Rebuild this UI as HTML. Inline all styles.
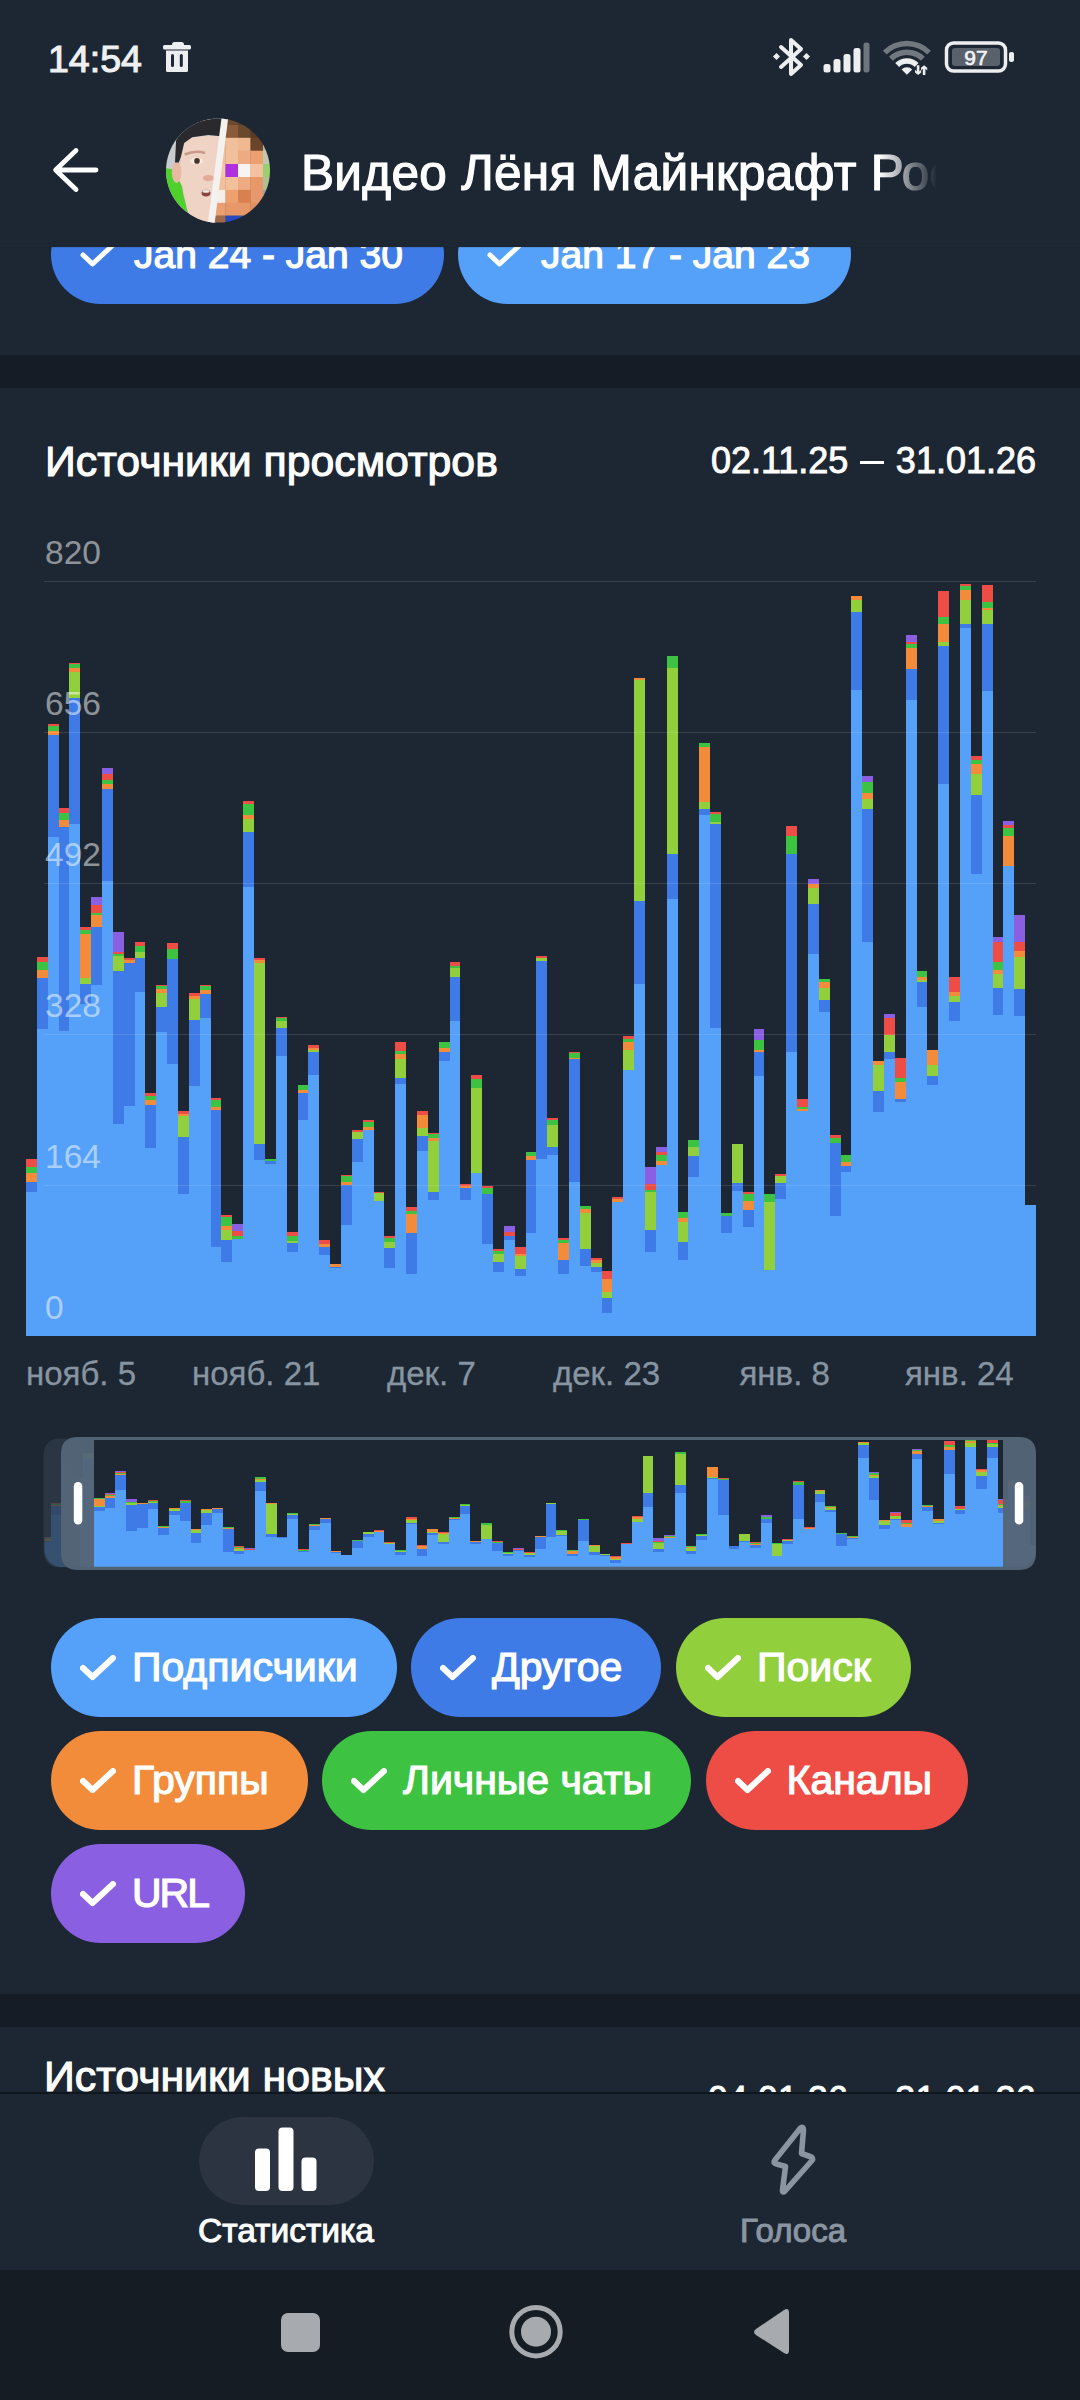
<!DOCTYPE html>
<html><head><meta charset="utf-8">
<style>
*{margin:0;padding:0;box-sizing:border-box}
html,body{width:1080px;height:2400px;overflow:hidden;background:#1d2733;font-family:"Liberation Sans", sans-serif}
.abs{position:absolute}
.chip{position:absolute;border-radius:60px;overflow:hidden}
.chip .chk{position:absolute}
.chip .ct{position:absolute;top:0;color:#fff;white-space:nowrap;-webkit-text-stroke:1.2px #fff}
.yl{position:absolute;left:45px;font-size:33.5px;line-height:30px;height:30px;color:rgba(255,255,255,0.52);white-space:nowrap}
.xl{position:absolute;top:1353.5px;font-size:33px;line-height:40px;color:#8794a1;white-space:nowrap;-webkit-text-stroke:0.3px #8794a1}
</style></head><body>
<!-- status bar -->
<div class="abs" style="left:0;top:0;width:1080px;height:247px;background:#1d2733;z-index:5">
  <div class="abs" style="left:48px;top:37px;font-size:37.5px;line-height:44px;color:#eef0f2;-webkit-text-stroke:1.1px #eef0f2">14:54</div>
  <svg class="abs" style="left:160px;top:38px" width="36" height="38" viewBox="0 0 36 38">
    <path d="M12,6.5 Q12,4 14.5,4 H21.5 Q24,4 24,6.5 V7 H29.5 Q31,7 31,8.5 V10 Q31,11.6 29.5,11.6 H4.5 Q3,11.6 3,10 V8.5 Q3,7 4.5,7 H12 Z" fill="#eceef0"/>
    <path d="M6,12.6 H28 V32.5 Q28,34 26.5,34 H7.5 Q6,34 6,32.5 Z" fill="#eceef0"/>
    <rect x="11" y="16" width="3" height="13" rx="1.5" fill="#1d2733"/>
    <rect x="19.8" y="16" width="3" height="13" rx="1.5" fill="#1d2733"/>
  </svg>
  <!-- bluetooth -->
  <svg class="abs" style="left:772px;top:36px" width="40" height="42" viewBox="0 0 40 42">
    <path d="M9,11 L29,29 L19,38 V4 L29,13 L9,31" fill="none" stroke="#eceef0" stroke-width="4" stroke-linejoin="round" stroke-linecap="round"/>
    <rect x="2" y="18" width="5" height="5" transform="rotate(45 4.5 20.5)" fill="#eceef0"/>
    <rect x="32" y="18" width="5" height="5" transform="rotate(45 34.5 20.5)" fill="#eceef0"/>
  </svg>
  <!-- signal -->
  <svg class="abs" style="left:822px;top:42px" width="52" height="32" viewBox="0 0 52 32">
    <rect x="1.5" y="22" width="7" height="8.5" rx="2.5" fill="#eceef0"/>
    <rect x="11.5" y="17" width="7" height="13.5" rx="2.5" fill="#eceef0"/>
    <rect x="21.5" y="12" width="7" height="18.5" rx="2.5" fill="#eceef0"/>
    <rect x="31.5" y="6" width="7" height="24.5" rx="2.5" fill="#eceef0"/>
    <rect x="41.5" y="0.5" width="6" height="30" rx="2.5" fill="#6e757d"/>
  </svg>
  <!-- wifi -->
  <svg class="abs" style="left:882px;top:38px" width="52" height="40" viewBox="0 0 52 40">
    <path d="M0.86,12.66 A34,34 0 0 1 48.94,12.66 L45.05,16.55 A28.5,28.5 0 0 0 4.75,16.55 Z" fill="#71787f"/>
    <path d="M7.01,18.81 A25.3,25.3 0 0 1 42.79,18.81 L38.90,22.70 A19.8,19.8 0 0 0 10.90,22.70 Z" fill="#71787f"/>
    <path d="M13.23,25.03 A16.5,16.5 0 0 1 36.57,25.03 L32.68,28.92 A11,11 0 0 0 17.12,28.92 Z" fill="#eceef0"/>
    <path d="M24.9,36.7 L19.60,31.40 A7.5,7.5 0 0 1 30.20,31.40 Z" fill="#eceef0"/>
    <path d="M34.8,27.3 H37.4 V33.5 L39.2,31.7 L39.2,34.5 L36.1,37 L33,34.5 L33,31.7 L34.8,33.5 Z" fill="#eceef0"/>
    <path d="M40.8,37 H43.4 V30.8 L45.2,32.6 L45.2,29.8 L42.1,27.3 L39,29.8 L39,32.6 L40.8,30.8 Z" fill="#eceef0"/>
  </svg>
  <!-- battery -->
  <svg class="abs" style="left:944px;top:40px" width="74" height="34" viewBox="0 0 74 34">
    <rect x="2.5" y="3" width="59" height="28" rx="7" fill="none" stroke="#eceef0" stroke-width="3.5"/>
    <rect x="8" y="8" width="48" height="18" rx="3" fill="#59616b"/>
    <rect x="65" y="12" width="5" height="10" rx="2" fill="#eceef0"/>
    <text x="32" y="25" text-anchor="middle" font-family="Liberation Sans" font-size="21" font-weight="400" stroke="#f2f4f6" stroke-width="0.6" fill="#f2f4f6">97</text>
  </svg>
  <!-- back arrow -->
  <svg class="abs" style="left:50px;top:144px" width="52" height="52" viewBox="0 0 52 52">
    <path d="M46,26 H7 M26,6.5 L5.6,26 L26,45.5" fill="none" stroke="#fff" stroke-width="4.8" stroke-linecap="round" stroke-linejoin="round"/>
  </svg>
  <svg class="abs" style="left:0;top:0" width="1080" height="247" viewBox="0 0 1080 247"><defs><clipPath id="av"><circle cx="218" cy="170.6" r="52"/></clipPath><clipPath id="avL"><path d="M150,100 L230.5,100 L214,240 L150,240 Z"/></clipPath><clipPath id="avR"><path d="M229,100 L290,100 L290,240 L212.5,240 Z"/></clipPath></defs>
<g clip-path="url(#av)">
<g clip-path="url(#avL)">
<rect x="150" y="100" width="90" height="140" fill="#c9cccf"/>
<path d="M165.4,167.9 L175,170 L181.5,182.9 L183.1,193.6 L187.9,211.9 L176.1,216 L160,200 Z" fill="#4fd02c"/>
<path d="M181.5,144.2 L192.2,136.7 L226,135.6 L214,226 L192.2,219.4 L186.9,208.7 L182.6,187.2 L179.3,180.7 L180.4,160.3 Z" fill="#efd3c4"/>
<ellipse cx="176.6" cy="172.2" rx="4.8" ry="10.7" fill="#e6b9a2"/>
<path d="M175,162.5 L176.1,139.9 L184.7,128.1 L200.8,121.1 L228,116 L226,136.7 L208.3,135.1 L192.2,137.2 L184.2,143.1 L180.9,157.1 L178.8,162.5 Z" fill="#2a2a2e"/>
<path d="M184.7,154.5 Q195,150 205.1,153" fill="none" stroke="#c99a88" stroke-width="2.6"/>
<ellipse cx="196.5" cy="160.9" rx="6.4" ry="3.2" fill="#f3ece8"/>
<circle cx="197" cy="160.9" r="2.8" fill="#4a3424"/>
<ellipse cx="208.3" cy="178.1" rx="5.4" ry="3.2" fill="#e4ab9a"/>
<ellipse cx="206" cy="193.1" rx="4.5" ry="3.4" fill="#8a4440"/>
<ellipse cx="206" cy="191.4" rx="3.6" ry="1.3" fill="#f2e6e2"/>
</g>
<g clip-path="url(#avR)">
<rect x="200" y="112" width="13.3" height="13.3" fill="#6b4a30"/>
<rect x="213" y="112" width="12.8" height="13.3" fill="#6b4a30"/>
<rect x="225.5" y="112" width="12.8" height="13.3" fill="#6b4a30"/>
<rect x="238" y="112" width="12.8" height="13.3" fill="#5e3e26"/>
<rect x="250.5" y="112" width="12.8" height="13.3" fill="#4e3220"/>
<rect x="263" y="112" width="13.3" height="13.3" fill="#6a6a60"/>
<rect x="200" y="125" width="13.3" height="13.100000000000012" fill="#8a5a3a"/>
<rect x="213" y="125" width="12.8" height="13.100000000000012" fill="#8a5a3a"/>
<rect x="225.5" y="125" width="12.8" height="13.100000000000012" fill="#8a5a3a"/>
<rect x="238" y="125" width="12.8" height="13.100000000000012" fill="#6a4a2c"/>
<rect x="250.5" y="125" width="12.8" height="13.100000000000012" fill="#5a3a22"/>
<rect x="263" y="125" width="13.3" height="13.100000000000012" fill="#8a8a80"/>
<rect x="200" y="137.8" width="13.3" height="13.199999999999978" fill="#f0c09a"/>
<rect x="213" y="137.8" width="12.8" height="13.199999999999978" fill="#f0c09a"/>
<rect x="225.5" y="137.8" width="12.8" height="13.199999999999978" fill="#f0c09a"/>
<rect x="238" y="137.8" width="12.8" height="13.199999999999978" fill="#f0b890"/>
<rect x="250.5" y="137.8" width="12.8" height="13.199999999999978" fill="#6a4428"/>
<rect x="263" y="137.8" width="13.3" height="13.199999999999978" fill="#b8b8a8"/>
<rect x="200" y="150.7" width="13.3" height="13.600000000000012" fill="#f0c09a"/>
<rect x="213" y="150.7" width="12.8" height="13.600000000000012" fill="#f0c09a"/>
<rect x="225.5" y="150.7" width="12.8" height="13.600000000000012" fill="#f2c09c"/>
<rect x="238" y="150.7" width="12.8" height="13.600000000000012" fill="#eeaa80"/>
<rect x="250.5" y="150.7" width="12.8" height="13.600000000000012" fill="#eca070"/>
<rect x="263" y="150.7" width="13.3" height="13.600000000000012" fill="#c0c8b0"/>
<rect x="200" y="164" width="13.3" height="13.3" fill="#f3c8a8"/>
<rect x="213" y="164" width="12.8" height="13.3" fill="#f3c8a8"/>
<rect x="225.5" y="164" width="12.8" height="13.3" fill="#b030e0"/>
<rect x="238" y="164" width="12.8" height="13.3" fill="#f8f4f0"/>
<rect x="250.5" y="164" width="12.8" height="13.3" fill="#f3c0a0"/>
<rect x="263" y="164" width="13.3" height="13.3" fill="#98d070"/>
<rect x="200" y="177" width="13.3" height="13.200000000000006" fill="#f3c09c"/>
<rect x="213" y="177" width="12.8" height="13.200000000000006" fill="#f3c09c"/>
<rect x="225.5" y="177" width="12.8" height="13.200000000000006" fill="#f3c09c"/>
<rect x="238" y="177" width="12.8" height="13.200000000000006" fill="#eeaa80"/>
<rect x="250.5" y="177" width="12.8" height="13.200000000000006" fill="#e89868"/>
<rect x="263" y="177" width="13.3" height="13.200000000000006" fill="#b0c090"/>
<rect x="200" y="189.9" width="13.3" height="13.200000000000006" fill="#f5eee8"/>
<rect x="213" y="189.9" width="12.8" height="13.200000000000006" fill="#f5eee8"/>
<rect x="225.5" y="189.9" width="12.8" height="13.200000000000006" fill="#eea070"/>
<rect x="238" y="189.9" width="12.8" height="13.200000000000006" fill="#d88050"/>
<rect x="250.5" y="189.9" width="12.8" height="13.200000000000006" fill="#e8986c"/>
<rect x="263" y="189.9" width="13.3" height="13.200000000000006" fill="#a0a0a0"/>
<rect x="200" y="202.8" width="13.3" height="13.099999999999984" fill="#eba074"/>
<rect x="213" y="202.8" width="12.8" height="13.099999999999984" fill="#eba074"/>
<rect x="225.5" y="202.8" width="12.8" height="13.099999999999984" fill="#e89868"/>
<rect x="238" y="202.8" width="12.8" height="13.099999999999984" fill="#e89868"/>
<rect x="250.5" y="202.8" width="12.8" height="13.099999999999984" fill="#e09060"/>
<rect x="263" y="202.8" width="13.3" height="13.099999999999984" fill="#909090"/>
<rect x="200" y="215.6" width="13.3" height="14.700000000000006" fill="#a06a48"/>
<rect x="213" y="215.6" width="12.8" height="14.700000000000006" fill="#a06a48"/>
<rect x="225.5" y="215.6" width="12.8" height="14.700000000000006" fill="#2848c0"/>
<rect x="238" y="215.6" width="12.8" height="14.700000000000006" fill="#3050b0"/>
<rect x="250.5" y="215.6" width="12.8" height="14.700000000000006" fill="#604030"/>
<rect x="263" y="215.6" width="13.3" height="14.700000000000006" fill="#404040"/>
</g>
<path d="M222.3,112 L229,112 L213.7,230 L207,230 Z" fill="#f4f2f0"/>
</g></svg>
  <div class="abs" style="left:301px;top:141px;width:650px;height:64px;overflow:hidden;font-size:49.5px;letter-spacing:0.3px;line-height:64px;color:#fff;white-space:nowrap;-webkit-text-stroke:1.2px #fff;-webkit-mask-image:linear-gradient(to right,#000 0,#000 578px,rgba(0,0,0,0.3) 618px,rgba(0,0,0,0) 636px)">Видео Лёня Майнкрафт Рос</div>
</div>
<div class="abs" style="left:0;top:246.5px;width:1080px;height:1px;background:rgba(0,0,0,0.08);z-index:6"></div>
<!-- top date chips (scrolled under header) -->
<div class="chip" style="left:51px;top:205px;width:393px;height:99px;background:#3f7be6">
  <svg class="chk" style="left:29px;top:37px" width="36" height="26" viewBox="0 0 36 26"><path d="M3,13 L12.5,22 L33,3" fill="none" stroke="#fff" stroke-width="5" stroke-linecap="round" stroke-linejoin="round"/></svg>
  <span class="ct" style="left:83px;font-size:39px;line-height:99px">Jan 24 - Jan 30</span>
</div>
<div class="chip" style="left:458px;top:205px;width:393px;height:99px;background:#55a0f8">
  <svg class="chk" style="left:29px;top:37px" width="36" height="26" viewBox="0 0 36 26"><path d="M3,13 L12.5,22 L33,3" fill="none" stroke="#fff" stroke-width="5" stroke-linecap="round" stroke-linejoin="round"/></svg>
  <span class="ct" style="left:83px;font-size:39px;line-height:99px">Jan 17 - Jan 23</span>
</div>
<div class="abs" style="left:0;top:354.5px;width:1080px;height:33px;background:#161c25"></div>
<!-- section 1 -->
<div class="abs" style="left:45px;top:436px;font-size:42.8px;line-height:50px;color:#fff;white-space:nowrap;-webkit-text-stroke:1.1px #fff">Источники просмотров</div>
<div class="abs" style="right:44px;top:436px;font-size:36px;line-height:50px;color:#fff;white-space:nowrap;-webkit-text-stroke:0.9px #fff">02.11.25<span style="display:inline-block;width:23.5px;height:3px;background:#fff;vertical-align:middle;margin:0 12px 0 12px;position:relative;top:-1px"></span>31.01.26</div>
<svg class="abs" style="left:0;top:0;z-index:1" width="1080" height="2400" viewBox="0 0 1080 2400">
<g shape-rendering="crispEdges">
<rect x="26" y="1192" width="11" height="144" fill="#55a0f8"/>
<rect x="26" y="1182" width="11" height="10" fill="#3f7be6"/>
<rect x="26" y="1173" width="11" height="9" fill="#f28c3a"/>
<rect x="26" y="1167" width="11" height="6" fill="#3dc242"/>
<rect x="26" y="1159" width="11" height="8" fill="#ee4d45"/>
<rect x="37" y="1029" width="11" height="307" fill="#55a0f8"/>
<rect x="37" y="978" width="11" height="51" fill="#3f7be6"/>
<rect x="37" y="970" width="11" height="8" fill="#f28c3a"/>
<rect x="37" y="962" width="11" height="8" fill="#3dc242"/>
<rect x="37" y="957" width="11" height="5" fill="#ee4d45"/>
<rect x="48" y="837" width="11" height="499" fill="#55a0f8"/>
<rect x="48" y="735" width="11" height="102" fill="#3f7be6"/>
<rect x="48" y="731" width="11" height="4" fill="#f28c3a"/>
<rect x="48" y="726" width="11" height="5" fill="#3dc242"/>
<rect x="48" y="724" width="11" height="2" fill="#ee4d45"/>
<rect x="59" y="1031" width="10" height="305" fill="#55a0f8"/>
<rect x="59" y="827" width="10" height="204" fill="#3f7be6"/>
<rect x="59" y="820" width="10" height="7" fill="#f28c3a"/>
<rect x="59" y="813" width="10" height="7" fill="#3dc242"/>
<rect x="59" y="808" width="10" height="5" fill="#ee4d45"/>
<rect x="69" y="824" width="11" height="512" fill="#55a0f8"/>
<rect x="69" y="698" width="11" height="126" fill="#3f7be6"/>
<rect x="69" y="672" width="11" height="26" fill="#91cf3c"/>
<rect x="69" y="668" width="11" height="4" fill="#f28c3a"/>
<rect x="69" y="664" width="11" height="4" fill="#3dc242"/>
<rect x="69" y="663" width="11" height="1" fill="#ee4d45"/>
<rect x="80" y="1004" width="11" height="332" fill="#55a0f8"/>
<rect x="80" y="984" width="11" height="20" fill="#3f7be6"/>
<rect x="80" y="978" width="11" height="6" fill="#91cf3c"/>
<rect x="80" y="934" width="11" height="44" fill="#f28c3a"/>
<rect x="80" y="930" width="11" height="4" fill="#3dc242"/>
<rect x="80" y="927" width="11" height="3" fill="#ee4d45"/>
<rect x="91" y="985" width="11" height="351" fill="#55a0f8"/>
<rect x="91" y="927" width="11" height="58" fill="#3f7be6"/>
<rect x="91" y="915" width="11" height="12" fill="#f28c3a"/>
<rect x="91" y="913" width="11" height="2" fill="#3dc242"/>
<rect x="91" y="905" width="11" height="8" fill="#ee4d45"/>
<rect x="91" y="897" width="11" height="8" fill="#8b5fe1"/>
<rect x="102" y="881" width="11" height="455" fill="#55a0f8"/>
<rect x="102" y="789" width="11" height="92" fill="#3f7be6"/>
<rect x="102" y="784" width="11" height="5" fill="#f28c3a"/>
<rect x="102" y="780" width="11" height="4" fill="#3dc242"/>
<rect x="102" y="774" width="11" height="6" fill="#ee4d45"/>
<rect x="102" y="768" width="11" height="6" fill="#8b5fe1"/>
<rect x="113" y="1124" width="11" height="212" fill="#55a0f8"/>
<rect x="113" y="971" width="11" height="153" fill="#3f7be6"/>
<rect x="113" y="956" width="11" height="15" fill="#91cf3c"/>
<rect x="113" y="954" width="11" height="2" fill="#3dc242"/>
<rect x="113" y="952" width="11" height="2" fill="#ee4d45"/>
<rect x="113" y="932" width="11" height="20" fill="#8b5fe1"/>
<rect x="124" y="1106" width="11" height="230" fill="#55a0f8"/>
<rect x="124" y="963" width="11" height="143" fill="#3f7be6"/>
<rect x="124" y="960" width="11" height="3" fill="#f28c3a"/>
<rect x="124" y="958" width="11" height="2" fill="#ee4d45"/>
<rect x="135" y="992" width="10" height="344" fill="#55a0f8"/>
<rect x="135" y="958" width="10" height="34" fill="#3f7be6"/>
<rect x="135" y="952" width="10" height="6" fill="#91cf3c"/>
<rect x="135" y="946" width="10" height="6" fill="#3dc242"/>
<rect x="135" y="942" width="10" height="4" fill="#ee4d45"/>
<rect x="145" y="1148" width="11" height="188" fill="#55a0f8"/>
<rect x="145" y="1105" width="11" height="43" fill="#3f7be6"/>
<rect x="145" y="1100" width="11" height="5" fill="#f28c3a"/>
<rect x="145" y="1096" width="11" height="4" fill="#3dc242"/>
<rect x="145" y="1093" width="11" height="3" fill="#ee4d45"/>
<rect x="156" y="1032" width="11" height="304" fill="#55a0f8"/>
<rect x="156" y="1007" width="11" height="25" fill="#3f7be6"/>
<rect x="156" y="993" width="11" height="14" fill="#91cf3c"/>
<rect x="156" y="989" width="11" height="4" fill="#f28c3a"/>
<rect x="156" y="986" width="11" height="3" fill="#3dc242"/>
<rect x="156" y="985" width="11" height="1" fill="#ee4d45"/>
<rect x="167" y="1064" width="11" height="272" fill="#55a0f8"/>
<rect x="167" y="959" width="11" height="105" fill="#3f7be6"/>
<rect x="167" y="949" width="11" height="10" fill="#3dc242"/>
<rect x="167" y="943" width="11" height="6" fill="#ee4d45"/>
<rect x="178" y="1194" width="11" height="142" fill="#55a0f8"/>
<rect x="178" y="1137" width="11" height="57" fill="#3f7be6"/>
<rect x="178" y="1116" width="11" height="21" fill="#91cf3c"/>
<rect x="178" y="1114" width="11" height="2" fill="#f28c3a"/>
<rect x="178" y="1111" width="11" height="3" fill="#ee4d45"/>
<rect x="189" y="1086" width="11" height="250" fill="#55a0f8"/>
<rect x="189" y="1020" width="11" height="66" fill="#3f7be6"/>
<rect x="189" y="999" width="11" height="21" fill="#91cf3c"/>
<rect x="189" y="996" width="11" height="3" fill="#f28c3a"/>
<rect x="189" y="993" width="11" height="3" fill="#ee4d45"/>
<rect x="200" y="1018" width="11" height="318" fill="#55a0f8"/>
<rect x="200" y="994" width="11" height="24" fill="#3f7be6"/>
<rect x="200" y="990" width="11" height="4" fill="#f28c3a"/>
<rect x="200" y="986" width="11" height="4" fill="#3dc242"/>
<rect x="200" y="985" width="11" height="1" fill="#ee4d45"/>
<rect x="211" y="1247" width="10" height="89" fill="#55a0f8"/>
<rect x="211" y="1110" width="10" height="137" fill="#3f7be6"/>
<rect x="211" y="1107" width="10" height="3" fill="#f28c3a"/>
<rect x="211" y="1100" width="10" height="7" fill="#3dc242"/>
<rect x="211" y="1098" width="10" height="2" fill="#ee4d45"/>
<rect x="221" y="1262" width="11" height="74" fill="#55a0f8"/>
<rect x="221" y="1240" width="11" height="22" fill="#3f7be6"/>
<rect x="221" y="1230" width="11" height="10" fill="#91cf3c"/>
<rect x="221" y="1226" width="11" height="4" fill="#f28c3a"/>
<rect x="221" y="1217" width="11" height="9" fill="#3dc242"/>
<rect x="221" y="1215" width="11" height="2" fill="#ee4d45"/>
<rect x="232" y="1239" width="11" height="97" fill="#55a0f8"/>
<rect x="232" y="1236" width="11" height="3" fill="#3dc242"/>
<rect x="232" y="1231" width="11" height="5" fill="#ee4d45"/>
<rect x="232" y="1224" width="11" height="7" fill="#8b5fe1"/>
<rect x="243" y="887" width="11" height="449" fill="#55a0f8"/>
<rect x="243" y="832" width="11" height="55" fill="#3f7be6"/>
<rect x="243" y="819" width="11" height="13" fill="#91cf3c"/>
<rect x="243" y="815" width="11" height="4" fill="#f28c3a"/>
<rect x="243" y="804" width="11" height="11" fill="#3dc242"/>
<rect x="243" y="801" width="11" height="3" fill="#ee4d45"/>
<rect x="254" y="1160" width="11" height="176" fill="#55a0f8"/>
<rect x="254" y="1144" width="11" height="16" fill="#3f7be6"/>
<rect x="254" y="963" width="11" height="181" fill="#91cf3c"/>
<rect x="254" y="960" width="11" height="3" fill="#f28c3a"/>
<rect x="254" y="958" width="11" height="2" fill="#ee4d45"/>
<rect x="265" y="1164" width="11" height="172" fill="#55a0f8"/>
<rect x="265" y="1161" width="11" height="3" fill="#3f7be6"/>
<rect x="265" y="1159" width="11" height="2" fill="#3dc242"/>
<rect x="276" y="1056" width="11" height="280" fill="#55a0f8"/>
<rect x="276" y="1028" width="11" height="28" fill="#3f7be6"/>
<rect x="276" y="1021" width="11" height="7" fill="#91cf3c"/>
<rect x="276" y="1018" width="11" height="3" fill="#3dc242"/>
<rect x="276" y="1017" width="11" height="1" fill="#ee4d45"/>
<rect x="287" y="1252" width="11" height="84" fill="#55a0f8"/>
<rect x="287" y="1243" width="11" height="9" fill="#3f7be6"/>
<rect x="287" y="1241" width="11" height="2" fill="#91cf3c"/>
<rect x="287" y="1236" width="11" height="5" fill="#3dc242"/>
<rect x="287" y="1232" width="11" height="4" fill="#ee4d45"/>
<rect x="298" y="1120" width="10" height="216" fill="#55a0f8"/>
<rect x="298" y="1093" width="10" height="27" fill="#3f7be6"/>
<rect x="298" y="1090" width="10" height="3" fill="#f28c3a"/>
<rect x="298" y="1085" width="10" height="5" fill="#3dc242"/>
<rect x="308" y="1075" width="11" height="261" fill="#55a0f8"/>
<rect x="308" y="1052" width="11" height="23" fill="#3f7be6"/>
<rect x="308" y="1050" width="11" height="2" fill="#91cf3c"/>
<rect x="308" y="1048" width="11" height="2" fill="#f28c3a"/>
<rect x="308" y="1045" width="11" height="3" fill="#ee4d45"/>
<rect x="319" y="1255" width="11" height="81" fill="#55a0f8"/>
<rect x="319" y="1247" width="11" height="8" fill="#3f7be6"/>
<rect x="319" y="1244" width="11" height="3" fill="#f28c3a"/>
<rect x="319" y="1240" width="11" height="4" fill="#ee4d45"/>
<rect x="330" y="1268" width="11" height="68" fill="#55a0f8"/>
<rect x="330" y="1267" width="11" height="1" fill="#3f7be6"/>
<rect x="330" y="1264" width="11" height="3" fill="#f28c3a"/>
<rect x="341" y="1225" width="11" height="111" fill="#55a0f8"/>
<rect x="341" y="1185" width="11" height="40" fill="#3f7be6"/>
<rect x="341" y="1182" width="11" height="3" fill="#f28c3a"/>
<rect x="341" y="1176" width="11" height="6" fill="#3dc242"/>
<rect x="341" y="1175" width="11" height="1" fill="#ee4d45"/>
<rect x="352" y="1162" width="11" height="174" fill="#55a0f8"/>
<rect x="352" y="1139" width="11" height="23" fill="#3f7be6"/>
<rect x="352" y="1132" width="11" height="7" fill="#91cf3c"/>
<rect x="352" y="1130" width="11" height="2" fill="#ee4d45"/>
<rect x="363" y="1130" width="11" height="206" fill="#55a0f8"/>
<rect x="363" y="1127" width="11" height="3" fill="#f28c3a"/>
<rect x="363" y="1122" width="11" height="5" fill="#3dc242"/>
<rect x="363" y="1120" width="11" height="2" fill="#ee4d45"/>
<rect x="374" y="1201" width="10" height="135" fill="#55a0f8"/>
<rect x="374" y="1193" width="10" height="8" fill="#91cf3c"/>
<rect x="374" y="1192" width="10" height="1" fill="#ee4d45"/>
<rect x="384" y="1268" width="11" height="68" fill="#55a0f8"/>
<rect x="384" y="1248" width="11" height="20" fill="#3f7be6"/>
<rect x="384" y="1242" width="11" height="6" fill="#91cf3c"/>
<rect x="384" y="1238" width="11" height="4" fill="#3dc242"/>
<rect x="384" y="1236" width="11" height="2" fill="#ee4d45"/>
<rect x="395" y="1084" width="11" height="252" fill="#55a0f8"/>
<rect x="395" y="1078" width="11" height="6" fill="#3f7be6"/>
<rect x="395" y="1059" width="11" height="19" fill="#91cf3c"/>
<rect x="395" y="1054" width="11" height="5" fill="#f28c3a"/>
<rect x="395" y="1051" width="11" height="3" fill="#3dc242"/>
<rect x="395" y="1042" width="11" height="9" fill="#ee4d45"/>
<rect x="406" y="1274" width="11" height="62" fill="#55a0f8"/>
<rect x="406" y="1233" width="11" height="41" fill="#3f7be6"/>
<rect x="406" y="1214" width="11" height="19" fill="#f28c3a"/>
<rect x="406" y="1211" width="11" height="3" fill="#3dc242"/>
<rect x="406" y="1207" width="11" height="4" fill="#ee4d45"/>
<rect x="417" y="1151" width="11" height="185" fill="#55a0f8"/>
<rect x="417" y="1136" width="11" height="15" fill="#3f7be6"/>
<rect x="417" y="1128" width="11" height="8" fill="#91cf3c"/>
<rect x="417" y="1115" width="11" height="13" fill="#f28c3a"/>
<rect x="417" y="1111" width="11" height="4" fill="#ee4d45"/>
<rect x="428" y="1200" width="11" height="136" fill="#55a0f8"/>
<rect x="428" y="1192" width="11" height="8" fill="#3f7be6"/>
<rect x="428" y="1141" width="11" height="51" fill="#91cf3c"/>
<rect x="428" y="1138" width="11" height="3" fill="#f28c3a"/>
<rect x="428" y="1134" width="11" height="4" fill="#3dc242"/>
<rect x="428" y="1133" width="11" height="1" fill="#ee4d45"/>
<rect x="439" y="1061" width="11" height="275" fill="#55a0f8"/>
<rect x="439" y="1052" width="11" height="9" fill="#3f7be6"/>
<rect x="439" y="1048" width="11" height="4" fill="#f28c3a"/>
<rect x="439" y="1042" width="11" height="6" fill="#3dc242"/>
<rect x="450" y="1021" width="10" height="315" fill="#55a0f8"/>
<rect x="450" y="977" width="10" height="44" fill="#3f7be6"/>
<rect x="450" y="968" width="10" height="9" fill="#91cf3c"/>
<rect x="450" y="966" width="10" height="2" fill="#3dc242"/>
<rect x="450" y="962" width="10" height="4" fill="#ee4d45"/>
<rect x="460" y="1200" width="11" height="136" fill="#55a0f8"/>
<rect x="460" y="1188" width="11" height="12" fill="#3f7be6"/>
<rect x="460" y="1186" width="11" height="2" fill="#f28c3a"/>
<rect x="460" y="1184" width="11" height="2" fill="#ee4d45"/>
<rect x="471" y="1173" width="11" height="163" fill="#55a0f8"/>
<rect x="471" y="1088" width="11" height="85" fill="#91cf3c"/>
<rect x="471" y="1079" width="11" height="9" fill="#3dc242"/>
<rect x="471" y="1075" width="11" height="4" fill="#ee4d45"/>
<rect x="482" y="1244" width="11" height="92" fill="#55a0f8"/>
<rect x="482" y="1194" width="11" height="50" fill="#3f7be6"/>
<rect x="482" y="1188" width="11" height="6" fill="#3dc242"/>
<rect x="482" y="1186" width="11" height="2" fill="#ee4d45"/>
<rect x="493" y="1272" width="11" height="64" fill="#55a0f8"/>
<rect x="493" y="1262" width="11" height="10" fill="#3f7be6"/>
<rect x="493" y="1254" width="11" height="8" fill="#91cf3c"/>
<rect x="493" y="1251" width="11" height="3" fill="#3dc242"/>
<rect x="493" y="1249" width="11" height="2" fill="#ee4d45"/>
<rect x="504" y="1240" width="11" height="96" fill="#55a0f8"/>
<rect x="504" y="1236" width="11" height="4" fill="#3f7be6"/>
<rect x="504" y="1232" width="11" height="4" fill="#ee4d45"/>
<rect x="504" y="1226" width="11" height="6" fill="#8b5fe1"/>
<rect x="515" y="1276" width="11" height="60" fill="#55a0f8"/>
<rect x="515" y="1269" width="11" height="7" fill="#3f7be6"/>
<rect x="515" y="1256" width="11" height="13" fill="#91cf3c"/>
<rect x="515" y="1254" width="11" height="2" fill="#f28c3a"/>
<rect x="515" y="1247" width="11" height="7" fill="#ee4d45"/>
<rect x="526" y="1233" width="10" height="103" fill="#55a0f8"/>
<rect x="526" y="1160" width="10" height="73" fill="#3f7be6"/>
<rect x="526" y="1156" width="10" height="4" fill="#f28c3a"/>
<rect x="526" y="1152" width="10" height="4" fill="#3dc242"/>
<rect x="536" y="1159" width="11" height="177" fill="#55a0f8"/>
<rect x="536" y="961" width="11" height="198" fill="#3f7be6"/>
<rect x="536" y="958" width="11" height="3" fill="#91cf3c"/>
<rect x="536" y="956" width="11" height="2" fill="#ee4d45"/>
<rect x="547" y="1155" width="11" height="181" fill="#55a0f8"/>
<rect x="547" y="1147" width="11" height="8" fill="#3f7be6"/>
<rect x="547" y="1125" width="11" height="22" fill="#91cf3c"/>
<rect x="547" y="1120" width="11" height="5" fill="#3dc242"/>
<rect x="547" y="1118" width="11" height="2" fill="#ee4d45"/>
<rect x="558" y="1274" width="11" height="62" fill="#55a0f8"/>
<rect x="558" y="1260" width="11" height="14" fill="#3f7be6"/>
<rect x="558" y="1243" width="11" height="17" fill="#f28c3a"/>
<rect x="558" y="1240" width="11" height="3" fill="#3dc242"/>
<rect x="558" y="1238" width="11" height="2" fill="#ee4d45"/>
<rect x="569" y="1182" width="11" height="154" fill="#55a0f8"/>
<rect x="569" y="1059" width="11" height="123" fill="#3f7be6"/>
<rect x="569" y="1058" width="11" height="1" fill="#f28c3a"/>
<rect x="569" y="1053" width="11" height="5" fill="#3dc242"/>
<rect x="569" y="1052" width="11" height="1" fill="#ee4d45"/>
<rect x="580" y="1266" width="11" height="70" fill="#55a0f8"/>
<rect x="580" y="1249" width="11" height="17" fill="#3f7be6"/>
<rect x="580" y="1213" width="11" height="36" fill="#91cf3c"/>
<rect x="580" y="1209" width="11" height="4" fill="#f28c3a"/>
<rect x="580" y="1206" width="11" height="3" fill="#3dc242"/>
<rect x="591" y="1272" width="11" height="64" fill="#55a0f8"/>
<rect x="591" y="1267" width="11" height="5" fill="#3f7be6"/>
<rect x="591" y="1263" width="11" height="4" fill="#91cf3c"/>
<rect x="591" y="1260" width="11" height="3" fill="#f28c3a"/>
<rect x="591" y="1258" width="11" height="2" fill="#ee4d45"/>
<rect x="602" y="1313" width="10" height="23" fill="#55a0f8"/>
<rect x="602" y="1298" width="10" height="15" fill="#3f7be6"/>
<rect x="602" y="1292" width="10" height="6" fill="#91cf3c"/>
<rect x="602" y="1279" width="10" height="13" fill="#f28c3a"/>
<rect x="602" y="1271" width="10" height="8" fill="#ee4d45"/>
<rect x="612" y="1202" width="11" height="134" fill="#55a0f8"/>
<rect x="612" y="1199" width="11" height="3" fill="#f28c3a"/>
<rect x="612" y="1197" width="11" height="2" fill="#ee4d45"/>
<rect x="623" y="1070" width="11" height="266" fill="#55a0f8"/>
<rect x="623" y="1050" width="11" height="20" fill="#91cf3c"/>
<rect x="623" y="1042" width="11" height="8" fill="#f28c3a"/>
<rect x="623" y="1039" width="11" height="3" fill="#3dc242"/>
<rect x="623" y="1036" width="11" height="3" fill="#ee4d45"/>
<rect x="634" y="984" width="11" height="352" fill="#55a0f8"/>
<rect x="634" y="901" width="11" height="83" fill="#3f7be6"/>
<rect x="634" y="680" width="11" height="221" fill="#91cf3c"/>
<rect x="634" y="678" width="11" height="2" fill="#f28c3a"/>
<rect x="645" y="1252" width="11" height="84" fill="#55a0f8"/>
<rect x="645" y="1230" width="11" height="22" fill="#3f7be6"/>
<rect x="645" y="1192" width="11" height="38" fill="#91cf3c"/>
<rect x="645" y="1190" width="11" height="2" fill="#3dc242"/>
<rect x="645" y="1184" width="11" height="6" fill="#ee4d45"/>
<rect x="645" y="1167" width="11" height="17" fill="#8b5fe1"/>
<rect x="656" y="1165" width="11" height="171" fill="#55a0f8"/>
<rect x="656" y="1161" width="11" height="4" fill="#f28c3a"/>
<rect x="656" y="1155" width="11" height="6" fill="#3dc242"/>
<rect x="656" y="1152" width="11" height="3" fill="#ee4d45"/>
<rect x="656" y="1147" width="11" height="5" fill="#8b5fe1"/>
<rect x="667" y="899" width="11" height="437" fill="#55a0f8"/>
<rect x="667" y="854" width="11" height="45" fill="#3f7be6"/>
<rect x="667" y="668" width="11" height="186" fill="#91cf3c"/>
<rect x="667" y="656" width="11" height="12" fill="#3dc242"/>
<rect x="678" y="1260" width="10" height="76" fill="#55a0f8"/>
<rect x="678" y="1242" width="10" height="18" fill="#3f7be6"/>
<rect x="678" y="1222" width="10" height="20" fill="#91cf3c"/>
<rect x="678" y="1218" width="10" height="4" fill="#f28c3a"/>
<rect x="678" y="1212" width="10" height="6" fill="#3dc242"/>
<rect x="688" y="1177" width="11" height="159" fill="#55a0f8"/>
<rect x="688" y="1156" width="11" height="21" fill="#3f7be6"/>
<rect x="688" y="1147" width="11" height="9" fill="#91cf3c"/>
<rect x="688" y="1140" width="11" height="7" fill="#3dc242"/>
<rect x="699" y="815" width="11" height="521" fill="#55a0f8"/>
<rect x="699" y="809" width="11" height="6" fill="#3f7be6"/>
<rect x="699" y="802" width="11" height="7" fill="#91cf3c"/>
<rect x="699" y="747" width="11" height="55" fill="#f28c3a"/>
<rect x="699" y="743" width="11" height="4" fill="#3dc242"/>
<rect x="710" y="1028" width="11" height="308" fill="#55a0f8"/>
<rect x="710" y="824" width="11" height="204" fill="#3f7be6"/>
<rect x="710" y="822" width="11" height="2" fill="#91cf3c"/>
<rect x="710" y="814" width="11" height="8" fill="#3dc242"/>
<rect x="710" y="812" width="11" height="2" fill="#ee4d45"/>
<rect x="721" y="1233" width="11" height="103" fill="#55a0f8"/>
<rect x="721" y="1216" width="11" height="17" fill="#3f7be6"/>
<rect x="721" y="1213" width="11" height="3" fill="#3dc242"/>
<rect x="732" y="1191" width="11" height="145" fill="#55a0f8"/>
<rect x="732" y="1183" width="11" height="8" fill="#3f7be6"/>
<rect x="732" y="1144" width="11" height="39" fill="#91cf3c"/>
<rect x="743" y="1227" width="11" height="109" fill="#55a0f8"/>
<rect x="743" y="1210" width="11" height="17" fill="#3f7be6"/>
<rect x="743" y="1201" width="11" height="9" fill="#f28c3a"/>
<rect x="743" y="1194" width="11" height="7" fill="#3dc242"/>
<rect x="743" y="1192" width="11" height="2" fill="#ee4d45"/>
<rect x="754" y="1076" width="10" height="260" fill="#55a0f8"/>
<rect x="754" y="1052" width="10" height="24" fill="#3f7be6"/>
<rect x="754" y="1050" width="10" height="2" fill="#f28c3a"/>
<rect x="754" y="1040" width="10" height="10" fill="#3dc242"/>
<rect x="754" y="1029" width="10" height="11" fill="#8b5fe1"/>
<rect x="764" y="1270" width="11" height="66" fill="#55a0f8"/>
<rect x="764" y="1202" width="11" height="68" fill="#91cf3c"/>
<rect x="764" y="1194" width="11" height="8" fill="#3dc242"/>
<rect x="775" y="1199" width="11" height="137" fill="#55a0f8"/>
<rect x="775" y="1183" width="11" height="16" fill="#3f7be6"/>
<rect x="775" y="1176" width="11" height="7" fill="#91cf3c"/>
<rect x="775" y="1174" width="11" height="2" fill="#ee4d45"/>
<rect x="786" y="1052" width="11" height="284" fill="#55a0f8"/>
<rect x="786" y="854" width="11" height="198" fill="#3f7be6"/>
<rect x="786" y="836" width="11" height="18" fill="#3dc242"/>
<rect x="786" y="826" width="11" height="10" fill="#ee4d45"/>
<rect x="797" y="1111" width="11" height="225" fill="#55a0f8"/>
<rect x="797" y="1109" width="11" height="2" fill="#f28c3a"/>
<rect x="797" y="1107" width="11" height="2" fill="#3dc242"/>
<rect x="797" y="1099" width="11" height="8" fill="#ee4d45"/>
<rect x="808" y="954" width="11" height="382" fill="#55a0f8"/>
<rect x="808" y="904" width="11" height="50" fill="#3f7be6"/>
<rect x="808" y="888" width="11" height="16" fill="#91cf3c"/>
<rect x="808" y="884" width="11" height="4" fill="#f28c3a"/>
<rect x="808" y="879" width="11" height="5" fill="#8b5fe1"/>
<rect x="819" y="1012" width="11" height="324" fill="#55a0f8"/>
<rect x="819" y="1000" width="11" height="12" fill="#3f7be6"/>
<rect x="819" y="988" width="11" height="12" fill="#91cf3c"/>
<rect x="819" y="982" width="11" height="6" fill="#f28c3a"/>
<rect x="819" y="979" width="11" height="3" fill="#3dc242"/>
<rect x="830" y="1216" width="11" height="120" fill="#55a0f8"/>
<rect x="830" y="1143" width="11" height="73" fill="#3f7be6"/>
<rect x="830" y="1138" width="11" height="5" fill="#3dc242"/>
<rect x="830" y="1135" width="11" height="3" fill="#ee4d45"/>
<rect x="841" y="1172" width="10" height="164" fill="#55a0f8"/>
<rect x="841" y="1166" width="10" height="6" fill="#3f7be6"/>
<rect x="841" y="1162" width="10" height="4" fill="#f28c3a"/>
<rect x="841" y="1155" width="10" height="7" fill="#3dc242"/>
<rect x="851" y="690" width="11" height="646" fill="#55a0f8"/>
<rect x="851" y="612" width="11" height="78" fill="#3f7be6"/>
<rect x="851" y="600" width="11" height="12" fill="#91cf3c"/>
<rect x="851" y="596" width="11" height="4" fill="#f28c3a"/>
<rect x="862" y="942" width="11" height="394" fill="#55a0f8"/>
<rect x="862" y="809" width="11" height="133" fill="#3f7be6"/>
<rect x="862" y="799" width="11" height="10" fill="#91cf3c"/>
<rect x="862" y="793" width="11" height="6" fill="#f28c3a"/>
<rect x="862" y="782" width="11" height="11" fill="#3dc242"/>
<rect x="862" y="776" width="11" height="6" fill="#8b5fe1"/>
<rect x="873" y="1112" width="11" height="224" fill="#55a0f8"/>
<rect x="873" y="1091" width="11" height="21" fill="#3f7be6"/>
<rect x="873" y="1065" width="11" height="26" fill="#91cf3c"/>
<rect x="873" y="1061" width="11" height="4" fill="#f28c3a"/>
<rect x="884" y="1059" width="11" height="277" fill="#55a0f8"/>
<rect x="884" y="1052" width="11" height="7" fill="#3f7be6"/>
<rect x="884" y="1035" width="11" height="17" fill="#91cf3c"/>
<rect x="884" y="1018" width="11" height="17" fill="#ee4d45"/>
<rect x="884" y="1014" width="11" height="4" fill="#8b5fe1"/>
<rect x="895" y="1102" width="11" height="234" fill="#55a0f8"/>
<rect x="895" y="1099" width="11" height="3" fill="#3f7be6"/>
<rect x="895" y="1082" width="11" height="17" fill="#f28c3a"/>
<rect x="895" y="1078" width="11" height="4" fill="#3dc242"/>
<rect x="895" y="1058" width="11" height="20" fill="#ee4d45"/>
<rect x="906" y="700" width="11" height="636" fill="#55a0f8"/>
<rect x="906" y="669" width="11" height="31" fill="#3f7be6"/>
<rect x="906" y="648" width="11" height="21" fill="#f28c3a"/>
<rect x="906" y="644" width="11" height="4" fill="#3dc242"/>
<rect x="906" y="642" width="11" height="2" fill="#ee4d45"/>
<rect x="906" y="635" width="11" height="7" fill="#8b5fe1"/>
<rect x="917" y="1007" width="10" height="329" fill="#55a0f8"/>
<rect x="917" y="982" width="10" height="25" fill="#3f7be6"/>
<rect x="917" y="980" width="10" height="2" fill="#91cf3c"/>
<rect x="917" y="977" width="10" height="3" fill="#f28c3a"/>
<rect x="917" y="971" width="10" height="6" fill="#3dc242"/>
<rect x="927" y="1085" width="11" height="251" fill="#55a0f8"/>
<rect x="927" y="1076" width="11" height="9" fill="#3f7be6"/>
<rect x="927" y="1065" width="11" height="11" fill="#91cf3c"/>
<rect x="927" y="1050" width="11" height="15" fill="#f28c3a"/>
<rect x="938" y="784" width="11" height="552" fill="#55a0f8"/>
<rect x="938" y="646" width="11" height="138" fill="#3f7be6"/>
<rect x="938" y="642" width="11" height="4" fill="#91cf3c"/>
<rect x="938" y="624" width="11" height="18" fill="#f28c3a"/>
<rect x="938" y="617" width="11" height="7" fill="#3dc242"/>
<rect x="938" y="591" width="11" height="26" fill="#ee4d45"/>
<rect x="949" y="1021" width="11" height="315" fill="#55a0f8"/>
<rect x="949" y="1002" width="11" height="19" fill="#3f7be6"/>
<rect x="949" y="996" width="11" height="6" fill="#91cf3c"/>
<rect x="949" y="992" width="11" height="4" fill="#f28c3a"/>
<rect x="949" y="977" width="11" height="15" fill="#ee4d45"/>
<rect x="960" y="628" width="11" height="708" fill="#55a0f8"/>
<rect x="960" y="624" width="11" height="4" fill="#3f7be6"/>
<rect x="960" y="600" width="11" height="24" fill="#91cf3c"/>
<rect x="960" y="590" width="11" height="10" fill="#f28c3a"/>
<rect x="960" y="586" width="11" height="4" fill="#3dc242"/>
<rect x="960" y="584" width="11" height="2" fill="#ee4d45"/>
<rect x="971" y="874" width="11" height="462" fill="#55a0f8"/>
<rect x="971" y="795" width="11" height="79" fill="#3f7be6"/>
<rect x="971" y="774" width="11" height="21" fill="#91cf3c"/>
<rect x="971" y="764" width="11" height="10" fill="#f28c3a"/>
<rect x="971" y="760" width="11" height="4" fill="#3dc242"/>
<rect x="971" y="756" width="11" height="4" fill="#ee4d45"/>
<rect x="982" y="691" width="11" height="645" fill="#55a0f8"/>
<rect x="982" y="624" width="11" height="67" fill="#3f7be6"/>
<rect x="982" y="610" width="11" height="14" fill="#91cf3c"/>
<rect x="982" y="608" width="11" height="2" fill="#f28c3a"/>
<rect x="982" y="602" width="11" height="6" fill="#3dc242"/>
<rect x="982" y="585" width="11" height="17" fill="#ee4d45"/>
<rect x="993" y="1015" width="10" height="321" fill="#55a0f8"/>
<rect x="993" y="988" width="10" height="27" fill="#3f7be6"/>
<rect x="993" y="974" width="10" height="14" fill="#91cf3c"/>
<rect x="993" y="970" width="10" height="4" fill="#f28c3a"/>
<rect x="993" y="962" width="10" height="8" fill="#3dc242"/>
<rect x="993" y="942" width="10" height="20" fill="#ee4d45"/>
<rect x="993" y="937" width="10" height="5" fill="#8b5fe1"/>
<rect x="1003" y="866" width="11" height="470" fill="#55a0f8"/>
<rect x="1003" y="836" width="11" height="30" fill="#f28c3a"/>
<rect x="1003" y="828" width="11" height="8" fill="#3dc242"/>
<rect x="1003" y="825" width="11" height="3" fill="#ee4d45"/>
<rect x="1003" y="821" width="11" height="4" fill="#8b5fe1"/>
<rect x="1014" y="1016" width="11" height="320" fill="#55a0f8"/>
<rect x="1014" y="989" width="11" height="27" fill="#3f7be6"/>
<rect x="1014" y="957" width="11" height="32" fill="#91cf3c"/>
<rect x="1014" y="951" width="11" height="6" fill="#f28c3a"/>
<rect x="1014" y="942" width="11" height="9" fill="#ee4d45"/>
<rect x="1014" y="915" width="11" height="27" fill="#8b5fe1"/>
<rect x="1025" y="1205" width="11" height="131" fill="#55a0f8"/>
</g>
<rect x="44" y="581" width="992" height="1" fill="rgba(255,255,255,0.12)"/>
<rect x="44" y="732" width="992" height="1" fill="rgba(255,255,255,0.12)"/>
<rect x="44" y="883" width="992" height="1" fill="rgba(255,255,255,0.12)"/>
<rect x="44" y="1034" width="992" height="1" fill="rgba(255,255,255,0.12)"/>
<rect x="44" y="1185" width="992" height="1" fill="rgba(255,255,255,0.12)"/>
<defs><clipPath id="mclip"><rect x="44.5" y="1439" width="991" height="128" rx="17" ry="17"/></clipPath></defs>
<g clip-path="url(#mclip)">
<g shape-rendering="crispEdges">
<rect x="40" y="1542" width="11" height="25" fill="#55a0f8"/>
<rect x="40" y="1541" width="11" height="1" fill="#3f7be6"/>
<rect x="40" y="1539" width="11" height="2" fill="#f28c3a"/>
<rect x="40" y="1538" width="11" height="1" fill="#3dc242"/>
<rect x="40" y="1537" width="11" height="1" fill="#ee4d45"/>
<rect x="51" y="1515" width="11" height="52" fill="#55a0f8"/>
<rect x="51" y="1506" width="11" height="9" fill="#3f7be6"/>
<rect x="51" y="1505" width="11" height="1" fill="#f28c3a"/>
<rect x="51" y="1504" width="11" height="1" fill="#3dc242"/>
<rect x="51" y="1503" width="11" height="1" fill="#ee4d45"/>
<rect x="62" y="1483" width="10" height="84" fill="#55a0f8"/>
<rect x="62" y="1465" width="10" height="18" fill="#3f7be6"/>
<rect x="62" y="1464" width="10" height="1" fill="#3dc242"/>
<rect x="72" y="1515" width="11" height="52" fill="#55a0f8"/>
<rect x="72" y="1481" width="11" height="34" fill="#3f7be6"/>
<rect x="72" y="1480" width="11" height="1" fill="#f28c3a"/>
<rect x="72" y="1479" width="11" height="1" fill="#3dc242"/>
<rect x="72" y="1478" width="11" height="1" fill="#ee4d45"/>
<rect x="83" y="1480" width="11" height="87" fill="#55a0f8"/>
<rect x="83" y="1459" width="11" height="21" fill="#3f7be6"/>
<rect x="83" y="1455" width="11" height="4" fill="#91cf3c"/>
<rect x="83" y="1454" width="11" height="1" fill="#f28c3a"/>
<rect x="83" y="1453" width="11" height="1" fill="#3dc242"/>
<rect x="94" y="1511" width="11" height="56" fill="#55a0f8"/>
<rect x="94" y="1507" width="11" height="4" fill="#3f7be6"/>
<rect x="94" y="1506" width="11" height="1" fill="#91cf3c"/>
<rect x="94" y="1499" width="11" height="7" fill="#f28c3a"/>
<rect x="94" y="1498" width="11" height="1" fill="#3dc242"/>
<rect x="105" y="1508" width="10" height="59" fill="#55a0f8"/>
<rect x="105" y="1498" width="10" height="10" fill="#3f7be6"/>
<rect x="105" y="1496" width="10" height="2" fill="#f28c3a"/>
<rect x="105" y="1495" width="10" height="1" fill="#3dc242"/>
<rect x="105" y="1494" width="10" height="1" fill="#ee4d45"/>
<rect x="105" y="1493" width="10" height="1" fill="#8b5fe1"/>
<rect x="115" y="1490" width="11" height="77" fill="#55a0f8"/>
<rect x="115" y="1475" width="11" height="15" fill="#3f7be6"/>
<rect x="115" y="1474" width="11" height="1" fill="#f28c3a"/>
<rect x="115" y="1473" width="11" height="1" fill="#3dc242"/>
<rect x="115" y="1472" width="11" height="1" fill="#ee4d45"/>
<rect x="115" y="1471" width="11" height="1" fill="#8b5fe1"/>
<rect x="126" y="1531" width="11" height="36" fill="#55a0f8"/>
<rect x="126" y="1505" width="11" height="26" fill="#3f7be6"/>
<rect x="126" y="1503" width="11" height="2" fill="#91cf3c"/>
<rect x="126" y="1502" width="11" height="1" fill="#3dc242"/>
<rect x="126" y="1499" width="11" height="3" fill="#8b5fe1"/>
<rect x="137" y="1528" width="11" height="39" fill="#55a0f8"/>
<rect x="137" y="1504" width="11" height="24" fill="#3f7be6"/>
<rect x="137" y="1503" width="11" height="1" fill="#f28c3a"/>
<rect x="148" y="1509" width="10" height="58" fill="#55a0f8"/>
<rect x="148" y="1503" width="10" height="6" fill="#3f7be6"/>
<rect x="148" y="1502" width="10" height="1" fill="#91cf3c"/>
<rect x="148" y="1501" width="10" height="1" fill="#3dc242"/>
<rect x="148" y="1500" width="10" height="1" fill="#ee4d45"/>
<rect x="158" y="1535" width="11" height="32" fill="#55a0f8"/>
<rect x="158" y="1528" width="11" height="7" fill="#3f7be6"/>
<rect x="158" y="1527" width="11" height="1" fill="#f28c3a"/>
<rect x="158" y="1526" width="11" height="1" fill="#3dc242"/>
<rect x="169" y="1515" width="11" height="52" fill="#55a0f8"/>
<rect x="169" y="1511" width="11" height="4" fill="#3f7be6"/>
<rect x="169" y="1509" width="11" height="2" fill="#91cf3c"/>
<rect x="169" y="1508" width="11" height="1" fill="#f28c3a"/>
<rect x="180" y="1521" width="11" height="46" fill="#55a0f8"/>
<rect x="180" y="1503" width="11" height="18" fill="#3f7be6"/>
<rect x="180" y="1501" width="11" height="2" fill="#3dc242"/>
<rect x="180" y="1500" width="11" height="1" fill="#ee4d45"/>
<rect x="191" y="1543" width="10" height="24" fill="#55a0f8"/>
<rect x="191" y="1533" width="10" height="10" fill="#3f7be6"/>
<rect x="191" y="1530" width="10" height="3" fill="#91cf3c"/>
<rect x="191" y="1529" width="10" height="1" fill="#f28c3a"/>
<rect x="201" y="1525" width="11" height="42" fill="#55a0f8"/>
<rect x="201" y="1513" width="11" height="12" fill="#3f7be6"/>
<rect x="201" y="1510" width="11" height="3" fill="#91cf3c"/>
<rect x="201" y="1509" width="11" height="1" fill="#f28c3a"/>
<rect x="212" y="1513" width="11" height="54" fill="#55a0f8"/>
<rect x="212" y="1509" width="11" height="4" fill="#3f7be6"/>
<rect x="212" y="1508" width="11" height="1" fill="#f28c3a"/>
<rect x="223" y="1552" width="11" height="15" fill="#55a0f8"/>
<rect x="223" y="1529" width="11" height="23" fill="#3f7be6"/>
<rect x="223" y="1528" width="11" height="1" fill="#f28c3a"/>
<rect x="223" y="1527" width="11" height="1" fill="#3dc242"/>
<rect x="234" y="1554" width="10" height="13" fill="#55a0f8"/>
<rect x="234" y="1551" width="10" height="3" fill="#3f7be6"/>
<rect x="234" y="1549" width="10" height="2" fill="#91cf3c"/>
<rect x="234" y="1548" width="10" height="1" fill="#f28c3a"/>
<rect x="234" y="1547" width="10" height="1" fill="#3dc242"/>
<rect x="234" y="1546" width="10" height="1" fill="#ee4d45"/>
<rect x="244" y="1550" width="11" height="17" fill="#55a0f8"/>
<rect x="244" y="1549" width="11" height="1" fill="#ee4d45"/>
<rect x="244" y="1548" width="11" height="1" fill="#8b5fe1"/>
<rect x="255" y="1491" width="11" height="76" fill="#55a0f8"/>
<rect x="255" y="1482" width="11" height="9" fill="#3f7be6"/>
<rect x="255" y="1480" width="11" height="2" fill="#91cf3c"/>
<rect x="255" y="1479" width="11" height="1" fill="#f28c3a"/>
<rect x="255" y="1477" width="11" height="2" fill="#3dc242"/>
<rect x="266" y="1537" width="11" height="30" fill="#55a0f8"/>
<rect x="266" y="1534" width="11" height="3" fill="#3f7be6"/>
<rect x="266" y="1504" width="11" height="30" fill="#91cf3c"/>
<rect x="266" y="1503" width="11" height="1" fill="#f28c3a"/>
<rect x="277" y="1538" width="10" height="29" fill="#55a0f8"/>
<rect x="277" y="1537" width="10" height="1" fill="#3f7be6"/>
<rect x="287" y="1519" width="11" height="48" fill="#55a0f8"/>
<rect x="287" y="1515" width="11" height="4" fill="#3f7be6"/>
<rect x="287" y="1514" width="11" height="1" fill="#91cf3c"/>
<rect x="287" y="1513" width="11" height="1" fill="#3dc242"/>
<rect x="298" y="1552" width="11" height="15" fill="#55a0f8"/>
<rect x="298" y="1551" width="11" height="1" fill="#3f7be6"/>
<rect x="298" y="1550" width="11" height="1" fill="#3dc242"/>
<rect x="298" y="1549" width="11" height="1" fill="#ee4d45"/>
<rect x="309" y="1530" width="11" height="37" fill="#55a0f8"/>
<rect x="309" y="1526" width="11" height="4" fill="#3f7be6"/>
<rect x="309" y="1525" width="11" height="1" fill="#f28c3a"/>
<rect x="309" y="1524" width="11" height="1" fill="#3dc242"/>
<rect x="320" y="1523" width="11" height="44" fill="#55a0f8"/>
<rect x="320" y="1519" width="11" height="4" fill="#3f7be6"/>
<rect x="320" y="1518" width="11" height="1" fill="#f28c3a"/>
<rect x="331" y="1553" width="10" height="14" fill="#55a0f8"/>
<rect x="331" y="1552" width="10" height="1" fill="#3f7be6"/>
<rect x="331" y="1551" width="10" height="1" fill="#f28c3a"/>
<rect x="341" y="1555" width="11" height="12" fill="#55a0f8"/>
<rect x="352" y="1548" width="11" height="19" fill="#55a0f8"/>
<rect x="352" y="1541" width="11" height="7" fill="#3f7be6"/>
<rect x="352" y="1540" width="11" height="1" fill="#3dc242"/>
<rect x="363" y="1537" width="11" height="30" fill="#55a0f8"/>
<rect x="363" y="1534" width="11" height="3" fill="#3f7be6"/>
<rect x="363" y="1532" width="11" height="2" fill="#91cf3c"/>
<rect x="374" y="1532" width="10" height="35" fill="#55a0f8"/>
<rect x="374" y="1531" width="10" height="1" fill="#f28c3a"/>
<rect x="374" y="1530" width="10" height="1" fill="#ee4d45"/>
<rect x="384" y="1544" width="11" height="23" fill="#55a0f8"/>
<rect x="384" y="1543" width="11" height="1" fill="#91cf3c"/>
<rect x="384" y="1542" width="11" height="1" fill="#ee4d45"/>
<rect x="395" y="1555" width="11" height="12" fill="#55a0f8"/>
<rect x="395" y="1552" width="11" height="3" fill="#3f7be6"/>
<rect x="395" y="1551" width="11" height="1" fill="#91cf3c"/>
<rect x="395" y="1550" width="11" height="1" fill="#3dc242"/>
<rect x="406" y="1524" width="11" height="43" fill="#55a0f8"/>
<rect x="406" y="1523" width="11" height="1" fill="#3f7be6"/>
<rect x="406" y="1520" width="11" height="3" fill="#91cf3c"/>
<rect x="406" y="1519" width="11" height="1" fill="#f28c3a"/>
<rect x="406" y="1517" width="11" height="2" fill="#ee4d45"/>
<rect x="417" y="1556" width="10" height="11" fill="#55a0f8"/>
<rect x="417" y="1549" width="10" height="7" fill="#3f7be6"/>
<rect x="417" y="1546" width="10" height="3" fill="#f28c3a"/>
<rect x="417" y="1545" width="10" height="1" fill="#ee4d45"/>
<rect x="427" y="1535" width="11" height="32" fill="#55a0f8"/>
<rect x="427" y="1533" width="11" height="2" fill="#3f7be6"/>
<rect x="427" y="1532" width="11" height="1" fill="#91cf3c"/>
<rect x="427" y="1529" width="11" height="3" fill="#f28c3a"/>
<rect x="438" y="1544" width="11" height="23" fill="#55a0f8"/>
<rect x="438" y="1542" width="11" height="2" fill="#3f7be6"/>
<rect x="438" y="1534" width="11" height="8" fill="#91cf3c"/>
<rect x="438" y="1533" width="11" height="1" fill="#f28c3a"/>
<rect x="438" y="1532" width="11" height="1" fill="#ee4d45"/>
<rect x="449" y="1520" width="11" height="47" fill="#55a0f8"/>
<rect x="449" y="1519" width="11" height="1" fill="#3f7be6"/>
<rect x="449" y="1518" width="11" height="1" fill="#f28c3a"/>
<rect x="449" y="1517" width="11" height="1" fill="#3dc242"/>
<rect x="460" y="1514" width="10" height="53" fill="#55a0f8"/>
<rect x="460" y="1506" width="10" height="8" fill="#3f7be6"/>
<rect x="460" y="1505" width="10" height="1" fill="#91cf3c"/>
<rect x="460" y="1504" width="10" height="1" fill="#3dc242"/>
<rect x="470" y="1544" width="11" height="23" fill="#55a0f8"/>
<rect x="470" y="1542" width="11" height="2" fill="#3f7be6"/>
<rect x="470" y="1541" width="11" height="1" fill="#f28c3a"/>
<rect x="481" y="1539" width="11" height="28" fill="#55a0f8"/>
<rect x="481" y="1525" width="11" height="14" fill="#91cf3c"/>
<rect x="481" y="1523" width="11" height="2" fill="#3dc242"/>
<rect x="492" y="1551" width="11" height="16" fill="#55a0f8"/>
<rect x="492" y="1543" width="11" height="8" fill="#3f7be6"/>
<rect x="492" y="1542" width="11" height="1" fill="#3dc242"/>
<rect x="492" y="1541" width="11" height="1" fill="#ee4d45"/>
<rect x="503" y="1556" width="10" height="11" fill="#55a0f8"/>
<rect x="503" y="1554" width="10" height="2" fill="#3f7be6"/>
<rect x="503" y="1553" width="10" height="1" fill="#91cf3c"/>
<rect x="503" y="1552" width="10" height="1" fill="#3dc242"/>
<rect x="513" y="1551" width="11" height="16" fill="#55a0f8"/>
<rect x="513" y="1550" width="11" height="1" fill="#3f7be6"/>
<rect x="513" y="1549" width="11" height="1" fill="#ee4d45"/>
<rect x="513" y="1548" width="11" height="1" fill="#8b5fe1"/>
<rect x="524" y="1557" width="11" height="10" fill="#55a0f8"/>
<rect x="524" y="1555" width="11" height="2" fill="#3f7be6"/>
<rect x="524" y="1553" width="11" height="2" fill="#91cf3c"/>
<rect x="524" y="1552" width="11" height="1" fill="#ee4d45"/>
<rect x="535" y="1549" width="11" height="18" fill="#55a0f8"/>
<rect x="535" y="1537" width="11" height="12" fill="#3f7be6"/>
<rect x="535" y="1536" width="11" height="1" fill="#f28c3a"/>
<rect x="546" y="1537" width="10" height="30" fill="#55a0f8"/>
<rect x="546" y="1504" width="10" height="33" fill="#3f7be6"/>
<rect x="546" y="1503" width="10" height="1" fill="#91cf3c"/>
<rect x="556" y="1536" width="11" height="31" fill="#55a0f8"/>
<rect x="556" y="1535" width="11" height="1" fill="#3f7be6"/>
<rect x="556" y="1531" width="11" height="4" fill="#91cf3c"/>
<rect x="556" y="1530" width="11" height="1" fill="#3dc242"/>
<rect x="567" y="1556" width="11" height="11" fill="#55a0f8"/>
<rect x="567" y="1554" width="11" height="2" fill="#3f7be6"/>
<rect x="567" y="1551" width="11" height="3" fill="#f28c3a"/>
<rect x="567" y="1550" width="11" height="1" fill="#3dc242"/>
<rect x="578" y="1541" width="11" height="26" fill="#55a0f8"/>
<rect x="578" y="1520" width="11" height="21" fill="#3f7be6"/>
<rect x="578" y="1519" width="11" height="1" fill="#3dc242"/>
<rect x="589" y="1555" width="11" height="12" fill="#55a0f8"/>
<rect x="589" y="1552" width="11" height="3" fill="#3f7be6"/>
<rect x="589" y="1546" width="11" height="6" fill="#91cf3c"/>
<rect x="589" y="1545" width="11" height="1" fill="#f28c3a"/>
<rect x="600" y="1556" width="10" height="11" fill="#55a0f8"/>
<rect x="600" y="1555" width="10" height="1" fill="#3f7be6"/>
<rect x="600" y="1554" width="10" height="1" fill="#91cf3c"/>
<rect x="610" y="1563" width="11" height="4" fill="#55a0f8"/>
<rect x="610" y="1560" width="11" height="3" fill="#3f7be6"/>
<rect x="610" y="1559" width="11" height="1" fill="#91cf3c"/>
<rect x="610" y="1557" width="11" height="2" fill="#f28c3a"/>
<rect x="610" y="1556" width="11" height="1" fill="#ee4d45"/>
<rect x="621" y="1544" width="11" height="23" fill="#55a0f8"/>
<rect x="621" y="1543" width="11" height="1" fill="#ee4d45"/>
<rect x="632" y="1522" width="11" height="45" fill="#55a0f8"/>
<rect x="632" y="1519" width="11" height="3" fill="#91cf3c"/>
<rect x="632" y="1517" width="11" height="2" fill="#f28c3a"/>
<rect x="632" y="1516" width="11" height="1" fill="#ee4d45"/>
<rect x="643" y="1507" width="10" height="60" fill="#55a0f8"/>
<rect x="643" y="1493" width="10" height="14" fill="#3f7be6"/>
<rect x="643" y="1456" width="10" height="37" fill="#91cf3c"/>
<rect x="653" y="1552" width="11" height="15" fill="#55a0f8"/>
<rect x="653" y="1549" width="11" height="3" fill="#3f7be6"/>
<rect x="653" y="1543" width="11" height="6" fill="#91cf3c"/>
<rect x="653" y="1542" width="11" height="1" fill="#3dc242"/>
<rect x="653" y="1541" width="11" height="1" fill="#ee4d45"/>
<rect x="653" y="1538" width="11" height="3" fill="#8b5fe1"/>
<rect x="664" y="1538" width="11" height="29" fill="#55a0f8"/>
<rect x="664" y="1537" width="11" height="1" fill="#f28c3a"/>
<rect x="664" y="1536" width="11" height="1" fill="#3dc242"/>
<rect x="664" y="1535" width="11" height="1" fill="#8b5fe1"/>
<rect x="675" y="1493" width="11" height="74" fill="#55a0f8"/>
<rect x="675" y="1485" width="11" height="8" fill="#3f7be6"/>
<rect x="675" y="1454" width="11" height="31" fill="#91cf3c"/>
<rect x="675" y="1452" width="11" height="2" fill="#3dc242"/>
<rect x="686" y="1554" width="10" height="13" fill="#55a0f8"/>
<rect x="686" y="1551" width="10" height="3" fill="#3f7be6"/>
<rect x="686" y="1548" width="10" height="3" fill="#91cf3c"/>
<rect x="686" y="1547" width="10" height="1" fill="#f28c3a"/>
<rect x="686" y="1546" width="10" height="1" fill="#3dc242"/>
<rect x="696" y="1540" width="11" height="27" fill="#55a0f8"/>
<rect x="696" y="1536" width="11" height="4" fill="#3f7be6"/>
<rect x="696" y="1535" width="11" height="1" fill="#91cf3c"/>
<rect x="696" y="1534" width="11" height="1" fill="#3dc242"/>
<rect x="707" y="1479" width="11" height="88" fill="#55a0f8"/>
<rect x="707" y="1478" width="11" height="1" fill="#3f7be6"/>
<rect x="707" y="1477" width="11" height="1" fill="#91cf3c"/>
<rect x="707" y="1467" width="11" height="10" fill="#f28c3a"/>
<rect x="718" y="1515" width="11" height="52" fill="#55a0f8"/>
<rect x="718" y="1480" width="11" height="35" fill="#3f7be6"/>
<rect x="718" y="1479" width="11" height="1" fill="#3dc242"/>
<rect x="718" y="1478" width="11" height="1" fill="#ee4d45"/>
<rect x="729" y="1549" width="10" height="18" fill="#55a0f8"/>
<rect x="729" y="1546" width="10" height="3" fill="#3f7be6"/>
<rect x="739" y="1542" width="11" height="25" fill="#55a0f8"/>
<rect x="739" y="1541" width="11" height="1" fill="#3f7be6"/>
<rect x="739" y="1534" width="11" height="7" fill="#91cf3c"/>
<rect x="750" y="1548" width="11" height="19" fill="#55a0f8"/>
<rect x="750" y="1545" width="11" height="3" fill="#3f7be6"/>
<rect x="750" y="1544" width="11" height="1" fill="#f28c3a"/>
<rect x="750" y="1543" width="11" height="1" fill="#3dc242"/>
<rect x="750" y="1542" width="11" height="1" fill="#ee4d45"/>
<rect x="761" y="1523" width="11" height="44" fill="#55a0f8"/>
<rect x="761" y="1519" width="11" height="4" fill="#3f7be6"/>
<rect x="761" y="1517" width="11" height="2" fill="#3dc242"/>
<rect x="761" y="1515" width="11" height="2" fill="#8b5fe1"/>
<rect x="772" y="1556" width="10" height="11" fill="#55a0f8"/>
<rect x="772" y="1544" width="10" height="12" fill="#91cf3c"/>
<rect x="772" y="1543" width="10" height="1" fill="#3dc242"/>
<rect x="782" y="1544" width="11" height="23" fill="#55a0f8"/>
<rect x="782" y="1541" width="11" height="3" fill="#3f7be6"/>
<rect x="782" y="1540" width="11" height="1" fill="#91cf3c"/>
<rect x="782" y="1539" width="11" height="1" fill="#ee4d45"/>
<rect x="793" y="1519" width="11" height="48" fill="#55a0f8"/>
<rect x="793" y="1485" width="11" height="34" fill="#3f7be6"/>
<rect x="793" y="1482" width="11" height="3" fill="#3dc242"/>
<rect x="793" y="1481" width="11" height="1" fill="#ee4d45"/>
<rect x="804" y="1529" width="11" height="38" fill="#55a0f8"/>
<rect x="804" y="1528" width="11" height="1" fill="#f28c3a"/>
<rect x="804" y="1527" width="11" height="1" fill="#ee4d45"/>
<rect x="815" y="1502" width="10" height="65" fill="#55a0f8"/>
<rect x="815" y="1494" width="10" height="8" fill="#3f7be6"/>
<rect x="815" y="1491" width="10" height="3" fill="#91cf3c"/>
<rect x="815" y="1490" width="10" height="1" fill="#f28c3a"/>
<rect x="825" y="1512" width="11" height="55" fill="#55a0f8"/>
<rect x="825" y="1510" width="11" height="2" fill="#3f7be6"/>
<rect x="825" y="1508" width="11" height="2" fill="#91cf3c"/>
<rect x="825" y="1507" width="11" height="1" fill="#f28c3a"/>
<rect x="825" y="1506" width="11" height="1" fill="#3dc242"/>
<rect x="836" y="1546" width="11" height="21" fill="#55a0f8"/>
<rect x="836" y="1534" width="11" height="12" fill="#3f7be6"/>
<rect x="836" y="1533" width="11" height="1" fill="#3dc242"/>
<rect x="847" y="1539" width="11" height="28" fill="#55a0f8"/>
<rect x="847" y="1538" width="11" height="1" fill="#3f7be6"/>
<rect x="847" y="1537" width="11" height="1" fill="#f28c3a"/>
<rect x="847" y="1536" width="11" height="1" fill="#3dc242"/>
<rect x="858" y="1458" width="11" height="109" fill="#55a0f8"/>
<rect x="858" y="1445" width="11" height="13" fill="#3f7be6"/>
<rect x="858" y="1443" width="11" height="2" fill="#91cf3c"/>
<rect x="858" y="1442" width="11" height="1" fill="#f28c3a"/>
<rect x="869" y="1500" width="10" height="67" fill="#55a0f8"/>
<rect x="869" y="1478" width="10" height="22" fill="#3f7be6"/>
<rect x="869" y="1476" width="10" height="2" fill="#91cf3c"/>
<rect x="869" y="1475" width="10" height="1" fill="#f28c3a"/>
<rect x="869" y="1473" width="10" height="2" fill="#3dc242"/>
<rect x="869" y="1472" width="10" height="1" fill="#8b5fe1"/>
<rect x="879" y="1529" width="11" height="38" fill="#55a0f8"/>
<rect x="879" y="1525" width="11" height="4" fill="#3f7be6"/>
<rect x="879" y="1521" width="11" height="4" fill="#91cf3c"/>
<rect x="879" y="1520" width="11" height="1" fill="#f28c3a"/>
<rect x="890" y="1520" width="11" height="47" fill="#55a0f8"/>
<rect x="890" y="1519" width="11" height="1" fill="#3f7be6"/>
<rect x="890" y="1516" width="11" height="3" fill="#91cf3c"/>
<rect x="890" y="1513" width="11" height="3" fill="#ee4d45"/>
<rect x="890" y="1512" width="11" height="1" fill="#8b5fe1"/>
<rect x="901" y="1527" width="11" height="40" fill="#55a0f8"/>
<rect x="901" y="1524" width="11" height="3" fill="#f28c3a"/>
<rect x="901" y="1523" width="11" height="1" fill="#3dc242"/>
<rect x="901" y="1520" width="11" height="3" fill="#ee4d45"/>
<rect x="912" y="1459" width="10" height="108" fill="#55a0f8"/>
<rect x="912" y="1454" width="10" height="5" fill="#3f7be6"/>
<rect x="912" y="1451" width="10" height="3" fill="#f28c3a"/>
<rect x="912" y="1450" width="10" height="1" fill="#3dc242"/>
<rect x="912" y="1449" width="10" height="1" fill="#8b5fe1"/>
<rect x="922" y="1511" width="11" height="56" fill="#55a0f8"/>
<rect x="922" y="1507" width="11" height="4" fill="#3f7be6"/>
<rect x="922" y="1506" width="11" height="1" fill="#f28c3a"/>
<rect x="922" y="1505" width="11" height="1" fill="#3dc242"/>
<rect x="933" y="1524" width="11" height="43" fill="#55a0f8"/>
<rect x="933" y="1523" width="11" height="1" fill="#3f7be6"/>
<rect x="933" y="1521" width="11" height="2" fill="#91cf3c"/>
<rect x="933" y="1519" width="11" height="2" fill="#f28c3a"/>
<rect x="944" y="1474" width="11" height="93" fill="#55a0f8"/>
<rect x="944" y="1450" width="11" height="24" fill="#3f7be6"/>
<rect x="944" y="1447" width="11" height="3" fill="#f28c3a"/>
<rect x="944" y="1445" width="11" height="2" fill="#3dc242"/>
<rect x="944" y="1441" width="11" height="4" fill="#ee4d45"/>
<rect x="955" y="1514" width="10" height="53" fill="#55a0f8"/>
<rect x="955" y="1510" width="10" height="4" fill="#3f7be6"/>
<rect x="955" y="1509" width="10" height="1" fill="#91cf3c"/>
<rect x="955" y="1506" width="10" height="3" fill="#ee4d45"/>
<rect x="965" y="1447" width="11" height="120" fill="#55a0f8"/>
<rect x="965" y="1443" width="11" height="4" fill="#91cf3c"/>
<rect x="965" y="1441" width="11" height="2" fill="#f28c3a"/>
<rect x="965" y="1440" width="11" height="1" fill="#3dc242"/>
<rect x="976" y="1489" width="11" height="78" fill="#55a0f8"/>
<rect x="976" y="1476" width="11" height="13" fill="#3f7be6"/>
<rect x="976" y="1472" width="11" height="4" fill="#91cf3c"/>
<rect x="976" y="1470" width="11" height="2" fill="#f28c3a"/>
<rect x="976" y="1469" width="11" height="1" fill="#ee4d45"/>
<rect x="987" y="1458" width="11" height="109" fill="#55a0f8"/>
<rect x="987" y="1447" width="11" height="11" fill="#3f7be6"/>
<rect x="987" y="1444" width="11" height="3" fill="#91cf3c"/>
<rect x="987" y="1443" width="11" height="1" fill="#3dc242"/>
<rect x="987" y="1440" width="11" height="3" fill="#ee4d45"/>
<rect x="998" y="1513" width="10" height="54" fill="#55a0f8"/>
<rect x="998" y="1508" width="10" height="5" fill="#3f7be6"/>
<rect x="998" y="1506" width="10" height="2" fill="#91cf3c"/>
<rect x="998" y="1505" width="10" height="1" fill="#f28c3a"/>
<rect x="998" y="1504" width="10" height="1" fill="#3dc242"/>
<rect x="998" y="1500" width="10" height="4" fill="#ee4d45"/>
<rect x="998" y="1499" width="10" height="1" fill="#8b5fe1"/>
<rect x="1008" y="1487" width="11" height="80" fill="#55a0f8"/>
<rect x="1008" y="1482" width="11" height="5" fill="#f28c3a"/>
<rect x="1008" y="1481" width="11" height="1" fill="#3dc242"/>
<rect x="1008" y="1480" width="11" height="1" fill="#8b5fe1"/>
<rect x="1019" y="1513" width="11" height="54" fill="#55a0f8"/>
<rect x="1019" y="1508" width="11" height="5" fill="#3f7be6"/>
<rect x="1019" y="1503" width="11" height="5" fill="#91cf3c"/>
<rect x="1019" y="1502" width="11" height="1" fill="#f28c3a"/>
<rect x="1019" y="1500" width="11" height="2" fill="#ee4d45"/>
<rect x="1019" y="1496" width="11" height="4" fill="#8b5fe1"/>
<rect x="1030" y="1545" width="11" height="22" fill="#55a0f8"/>
</g>
</g>
<path d="M61,1439.6 L61,1566.7 L61,1566.7 L61,1566.7 L60.8,1566.7 L60.8,1566.7 L60.8,1566.7 L60.8,1566.7 Z" fill="none"/>
<path d="M80,1438.5 H61 Q43.5,1438.5 43.5,1456 V1550 Q43.5,1567.5 61,1567.5 H80 Z" fill="rgba(46,59,73,0.78)"/>
<path d="M94,1437 H78 Q61,1437 61,1454 V1553 Q61,1570 78,1570 H94 Z" fill="rgba(84,101,120,0.96)"/>
<path d="M1003,1437 H1019 Q1036,1437 1036,1454 V1553 Q1036,1570 1019,1570 H1003 Z" fill="rgba(84,101,120,0.96)"/>
<rect x="94" y="1437" width="909" height="3" fill="rgba(84,101,120,0.96)"/>
<rect x="94" y="1566.7" width="909" height="3.3" fill="rgba(84,101,120,0.96)"/>
<rect x="73.8" y="1482" width="8.5" height="42.4" rx="4.25" fill="#fff"/>
<rect x="1014.8" y="1482" width="8.5" height="42.4" rx="4.25" fill="#fff"/>
</svg>
<div class="abs" style="left:0;top:0;z-index:2"><div class="yl" style="top:538px">820</div><div class="yl" style="top:689px">656</div><div class="yl" style="top:840px">492</div><div class="yl" style="top:991px">328</div><div class="yl" style="top:1142px">164</div><div class="yl" style="top:1293px">0</div></div>
<div class="xl" style="left:26px">нояб. 5</div><div class="xl" style="left:192px">нояб. 21</div><div class="xl" style="left:387px">дек. 7</div><div class="xl" style="left:553px">дек. 23</div><div class="xl" style="left:739.5px">янв. 8</div><div class="xl" style="left:905px">янв. 24</div>
<div class="chip" style="left:51px;top:1618px;width:345.5px;height:99px;background:#55a0f8">
<svg class="chk" style="left:29px;top:36.5px" width="36" height="26" viewBox="0 0 36 26"><path d="M3,13 L12.5,22 L33,3" fill="none" stroke="#fff" stroke-width="6" stroke-linecap="round" stroke-linejoin="round"/></svg>
<span class="ct" style="left:81px;font-size:41px;line-height:99px;">Подписчики</span></div>
<div class="chip" style="left:411px;top:1618px;width:250px;height:99px;background:#3f7be6">
<svg class="chk" style="left:29px;top:36.5px" width="36" height="26" viewBox="0 0 36 26"><path d="M3,13 L12.5,22 L33,3" fill="none" stroke="#fff" stroke-width="6" stroke-linecap="round" stroke-linejoin="round"/></svg>
<span class="ct" style="left:81px;font-size:41px;line-height:99px;">Другое</span></div>
<div class="chip" style="left:676px;top:1618px;width:235px;height:99px;background:#91cf3c">
<svg class="chk" style="left:29px;top:36.5px" width="36" height="26" viewBox="0 0 36 26"><path d="M3,13 L12.5,22 L33,3" fill="none" stroke="#fff" stroke-width="6" stroke-linecap="round" stroke-linejoin="round"/></svg>
<span class="ct" style="left:81px;font-size:41px;line-height:99px;">Поиск</span></div>
<div class="chip" style="left:51px;top:1731px;width:256.5px;height:99px;background:#f28c3a">
<svg class="chk" style="left:29px;top:36.5px" width="36" height="26" viewBox="0 0 36 26"><path d="M3,13 L12.5,22 L33,3" fill="none" stroke="#fff" stroke-width="6" stroke-linecap="round" stroke-linejoin="round"/></svg>
<span class="ct" style="left:81px;font-size:41px;line-height:99px;">Группы</span></div>
<div class="chip" style="left:322px;top:1731px;width:368.5px;height:99px;background:#3dc242">
<svg class="chk" style="left:29px;top:36.5px" width="36" height="26" viewBox="0 0 36 26"><path d="M3,13 L12.5,22 L33,3" fill="none" stroke="#fff" stroke-width="6" stroke-linecap="round" stroke-linejoin="round"/></svg>
<span class="ct" style="left:81px;font-size:41px;line-height:99px;">Личные чаты</span></div>
<div class="chip" style="left:705.5px;top:1731px;width:262.5px;height:99px;background:#ee4d45">
<svg class="chk" style="left:29px;top:36.5px" width="36" height="26" viewBox="0 0 36 26"><path d="M3,13 L12.5,22 L33,3" fill="none" stroke="#fff" stroke-width="6" stroke-linecap="round" stroke-linejoin="round"/></svg>
<span class="ct" style="left:81px;font-size:41px;line-height:99px;">Каналы</span></div>
<div class="chip" style="left:51px;top:1844px;width:194px;height:99px;background:#8b5fe1">
<svg class="chk" style="left:29px;top:36.5px" width="36" height="26" viewBox="0 0 36 26"><path d="M3,13 L12.5,22 L33,3" fill="none" stroke="#fff" stroke-width="6" stroke-linecap="round" stroke-linejoin="round"/></svg>
<span class="ct" style="left:81px;font-size:41px;line-height:99px;letter-spacing:-2px">URL</span></div>
<div class="abs" style="left:0;top:1994px;width:1080px;height:32.5px;background:#161c25"></div>
<div class="abs" style="left:44px;top:2051px;font-size:42.8px;line-height:50px;color:#fff;white-space:nowrap;-webkit-text-stroke:1.1px #fff">Источники новых</div>
<div class="abs" style="right:44.5px;top:2075px;font-size:36px;line-height:50px;color:#fff;white-space:nowrap;-webkit-text-stroke:0.9px #fff">04.01.26<span style="display:inline-block;width:23.5px;height:3px;background:#fff;vertical-align:middle;margin:0 12px 0 12px;position:relative;top:-1px"></span>31.01.26</div>
<!-- bottom nav -->
<div class="abs" style="left:0;top:2091.5px;width:1080px;height:178.5px;background:#1d2733;border-top:2px solid #10161d;z-index:3">
  <div class="abs" style="left:198.5px;top:23px;width:175px;height:88.5px;border-radius:45px;background:#2c3441"></div>
  <svg class="abs" style="left:250px;top:28px" width="72" height="72" viewBox="0 0 72 72">
    <rect x="5" y="26.5" width="15" height="42.5" rx="4" fill="#fff"/>
    <rect x="28.5" y="5.5" width="15" height="63.5" rx="4" fill="#fff"/>
    <rect x="51.5" y="35.5" width="15" height="33.5" rx="4" fill="#fff"/>
  </svg>
  <div class="abs" style="left:0;width:572px;text-align:center;top:116px;font-size:33.5px;line-height:42px;color:#fff;-webkit-text-stroke:1px #fff">Статистика</div>
  <svg class="abs" style="left:760px;top:24px" width="66" height="80" viewBox="0 0 66 80">
    <path d="M40.5,10 Q43.5,8 43.5,12 L41.5,35.5 L50,38.5 Q54,40 52,42.5 L25,73 Q22.5,75.5 22.5,72 L25.5,48.5 L16.5,46 Q12.5,45 15,42 Z" fill="none" stroke="#8a95a1" stroke-width="5.6" stroke-linejoin="round"/>
  </svg>
  <div class="abs" style="left:586px;width:414px;text-align:center;top:116px;font-size:33px;line-height:42px;color:#8a95a1;-webkit-text-stroke:1px #8a95a1">Голоса</div>
</div>
<!-- system nav -->
<div class="abs" style="left:0;top:2270px;width:1080px;height:130px;background:#161c24;z-index:3">
  <div class="abs" style="left:280.5px;top:42.5px;width:39.5px;height:39px;border-radius:7px;background:#a7aaaf"></div>
  <svg class="abs" style="left:500px;top:26px" width="72" height="72" viewBox="0 0 72 72">
    <circle cx="36" cy="35.7" r="24.2" fill="none" stroke="#a7aaaf" stroke-width="5"/>
    <circle cx="36" cy="35.7" r="15" fill="#a7aaaf"/>
  </svg>
  <svg class="abs" style="left:746px;top:34px" width="50" height="56" viewBox="0 0 50 56">
    <path d="M38,6 Q43,3 43,9 V46 Q43,52 38,49 L10,31 Q6,28 10,25 Z" fill="#a7aaaf"/>
  </svg>
</div>
</body></html>
